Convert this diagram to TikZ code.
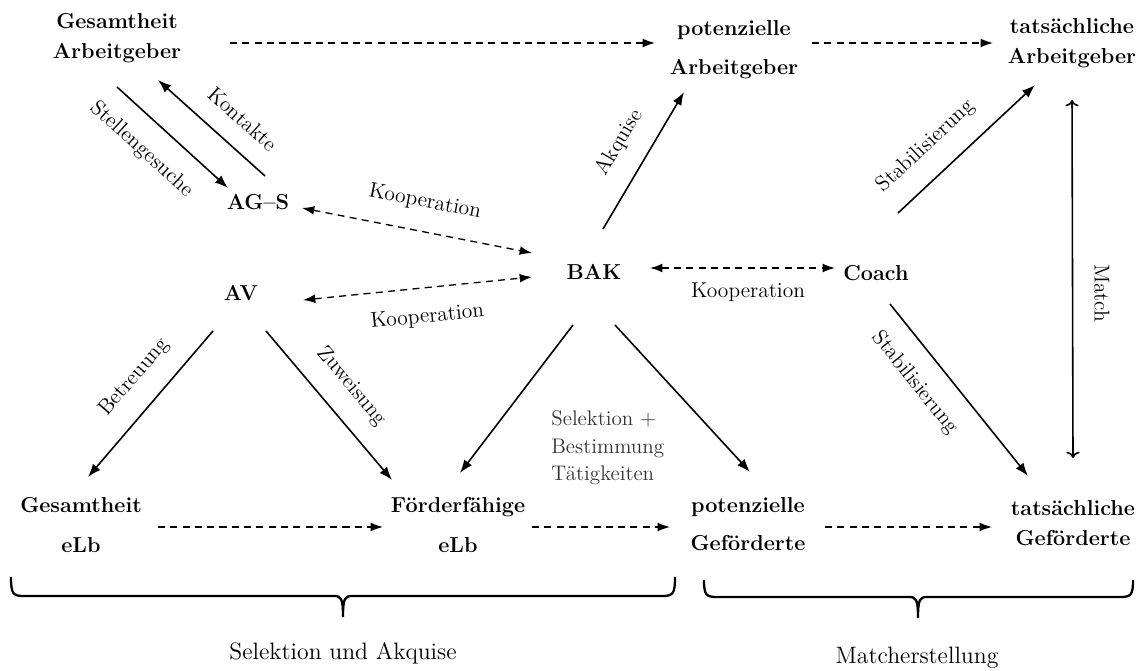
\documentclass[tikz,border=0pt]{standalone}
\usepackage{amsmath}
\usepackage{tikz}
\usetikzlibrary{arrows}
\usetikzlibrary{arrows.meta}

\tikzset{
  akteur/.style={font=\fontsize{12.3}{17}\selectfont\bfseries, align=center, inner sep=0pt},
  beschr/.style={font=\fontsize{12.2}{14}\selectfont, inner sep=0pt},
  phase/.style={font=\fontsize{13.5}{16}\selectfont, inner sep=0pt},
  pfeil/.style={-{Latex[length=7.5pt,width=5.5pt]}, line width=0.9pt},
  fluss/.style={-{Latex[length=7pt,width=5pt]}, line width=0.75pt, dash pattern=on 4pt off 3pt},
  koop/.style={{Latex[length=7pt,width=5pt]}-{Latex[length=7pt,width=5pt]}, line width=0.75pt, dash pattern=on 4pt off 3pt},
  klammer/.style={line width=1.3pt}
}

\begin{document}
\begin{tikzpicture}[x=0.02cm, y=-0.02cm]
  \useasboundingbox (0,0) rectangle (1145,671);

  \node[akteur] (gesAG) at (117,38) {Gesamtheit\\Arbeitgeber};
  \node[akteur] (potAG) at (734,50) {potenzielle\\[5pt]Arbeitgeber};
  \node[akteur] (tatAG) at (1072,43) {tatsächliche\\Arbeitgeber};
  \node[akteur] (ags) at (258,202) {AG--S};
  \node[akteur] (av) at (241,293) {AV};
  \node[akteur] (bak) at (594,272) {BAK};
  \node[akteur] (coach) at (876,273) {Coach};
  \node[akteur] (gesE) at (81,525) {Gesamtheit\\[6pt]eLb};
  \node[akteur] (foerd) at (458,525) {Förderfähige\\[6pt]eLb};
  \node[akteur] (potG) at (748,524) {potenzielle\\[5pt]Geförderte};
  \node[akteur] (tatG) at (1073,523) {tatsächliche\\Geförderte};
  \node[beschr, align=left, anchor=west, text=black!80,
        font=\fontsize{12}{15.6}\selectfont] (selekt) at (551,448) {Selektion +\\Bestimmung\\Tätigkeiten};

  \draw [fluss] ([shift={(113,5)}]gesAG.center) -- ([shift={(-79,-7)}]potAG.center);
  \draw [fluss] ([shift={(78,-7)}]potAG.center) -- ([shift={(-79,0)}]tatAG.center);
  \draw [pfeil] ([shift={(0,49)}]gesAG.center) -- node[beschr, sloped, pos=0.4, below=11pt]{Stellengesuche} ([shift={(-30,-14)}]ags.center);
  \draw [pfeil] ([shift={(7,-26)}]ags.center) -- node[beschr, sloped, pos=0.38, above=11pt]{Kontakte} ([shift={(41,42)}]gesAG.center);
  \draw [koop] ([shift={(44,6)}]ags.center) -- node[beschr, sloped, pos=0.51, above=11pt]{Kooperation} ([shift={(-62,-19)}]bak.center);
  \draw [koop] ([shift={(62,7)}]av.center) -- node[beschr, sloped, pos=0.53, below=11pt]{Kooperation} ([shift={(-62,5)}]bak.center);
  \draw [koop] ([shift={(56,-4)}]bak.center) -- node[beschr, pos=0.53, below=8pt]{Kooperation} ([shift={(-41,-5)}]coach.center);
  \draw [pfeil] ([shift={(9,-43)}]bak.center) -- node[beschr, sloped, pos=0.52, above=11pt]{Akquise} ([shift={(-50,42)}]potAG.center);
  \draw [pfeil] ([shift={(22,-60)}]coach.center) -- node[beschr, sloped, pos=0.35, above=11pt]{Stabilisierung} ([shift={(-37,42)}]tatAG.center);
  \draw [pfeil, <->] ([shift={(0,57)}]tatAG.center) -- node[beschr, sloped, pos=0.54, above=12pt]{Match} ([shift={(0,-65)}]tatG.center);
  \draw [pfeil] ([shift={(14,31)}]coach.center) -- node[beschr, sloped, pos=0.35, below=11pt]{Stabilisierung} ([shift={(-45,-47)}]tatG.center);
  \draw [pfeil] ([shift={(-21,53)}]bak.center) -- ([shift={(2,-52)}]foerd.center);
  \draw [pfeil] ([shift={(21,53)}]bak.center) -- ([shift={(2,-52)}]potG.center);
  \draw [pfeil] ([shift={(-28,38)}]av.center) -- node[beschr, sloped, pos=0.45, above=11pt]{Betreuung} ([shift={(7,-48)}]gesE.center);
  \draw [pfeil] ([shift={(25,38)}]av.center) -- node[beschr, sloped, pos=0.5, above=11pt]{Zuweisung} ([shift={(-66,-45)}]foerd.center);
  \draw [fluss] ([shift={(77,2)}]gesE.center) -- ([shift={(-75,2)}]foerd.center);
  \draw [fluss] ([shift={(74,2)}]foerd.center) -- ([shift={(-78,3)}]potG.center);
  \draw [fluss] ([shift={(77,3)}]potG.center) -- ([shift={(-81,4)}]tatG.center);

  \draw [klammer] (11,577) .. controls (11,594) and (13,596) .. (24,596) -- (334,596)
    .. controls (341,596) and (343,598) .. (343,617) .. controls (343,598) and (345,596) .. (352,596)
    -- (662,596) .. controls (673,596) and (675,594) .. (675,577);
  \draw [klammer] (704,580) .. controls (704,595) and (706,597) .. (717,597) -- (909,597)
    .. controls (916,597) and (918,599) .. (918,618) .. controls (918,599) and (920,597) .. (927,597)
    -- (1120,597) .. controls (1131,597) and (1133,595) .. (1133,580);

  \node[phase] (selAkq) at (343,653) {Selektion und Akquise};
  \node[phase] (match) at (917,658) {Matcherstellung};
\end{tikzpicture}
\end{document}
